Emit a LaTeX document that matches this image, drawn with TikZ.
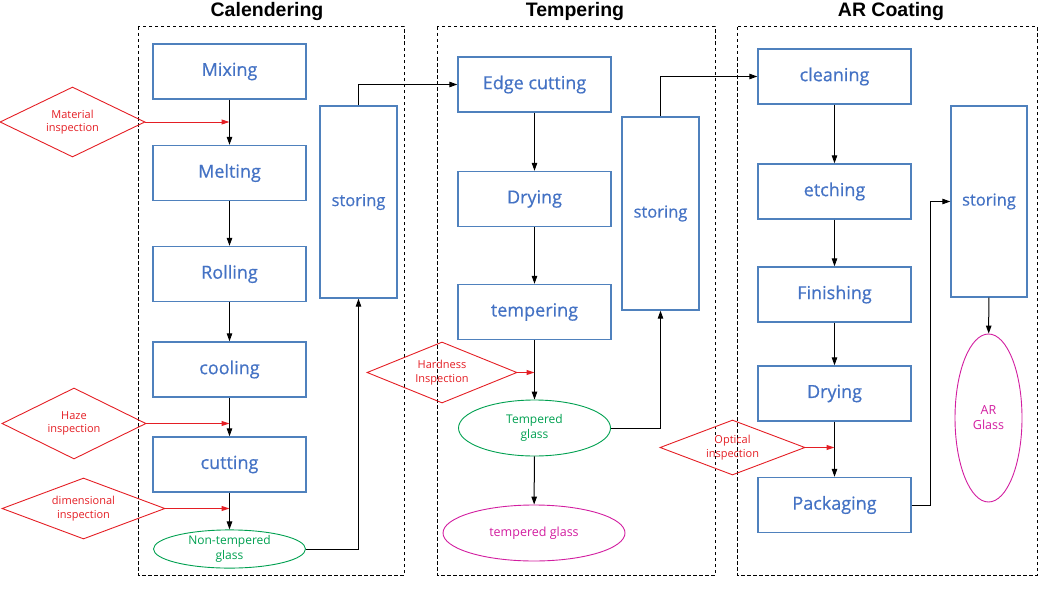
\documentclass[tikz,border=0pt]{standalone}
\usepackage{fontspec}
\setmainfont{Open Sans}
\newfontfamily\titlefont{Liberation Sans}
\newfontfamily\boxfont[FakeBold=0.6]{Open Sans}
\usetikzlibrary{shapes.geometric,arrows.meta,calc}
\definecolor{boxblue}{RGB}{79,129,189}
\definecolor{txtblue}{RGB}{68,114,196}
\definecolor{insred}{RGB}{228,30,36}
\definecolor{glgreen}{RGB}{0,160,80}
\definecolor{glpink}{RGB}{210,30,160}
\tikzset{
  procbox/.style={draw=boxblue, line width=1.4pt, minimum width=153pt, minimum height=55pt, inner sep=0pt, text=txtblue, font=\boxfont\fontsize{18}{20}\selectfont},
  storebox/.style={draw=boxblue, line width=1.4pt, minimum width=77pt, minimum height=192pt, inner sep=0pt, text=txtblue, font=\boxfont\fontsize{16.5}{18}\selectfont},
  insp/.style={draw=insred, line width=0.9pt, shape=diamond, aspect=2.3, inner sep=0pt, text=insred, align=center, font=\fontsize{11}{13.5}\selectfont},
  greenell/.style={draw=glgreen, line width=0.9pt, ellipse, inner sep=0pt, text=glgreen, align=center, font=\fontsize{12}{15}\selectfont},
  pinkell/.style={draw=glpink, line width=0.9pt, ellipse, inner sep=0pt, text=glpink, align=center, font=\fontsize{12.5}{15}\selectfont},
  flow/.style={draw=black, line width=1pt, -{Triangle[length=8pt,width=5.5pt]}},
  redflow/.style={draw=insred, line width=1pt, -{Triangle[length=8pt,width=5pt]}},
  stage/.style={draw=black, line width=1pt, dash pattern=on 3.5pt off 2.5pt},
  stagetitle/.style={font=\titlefont\bfseries\fontsize{19.5}{22}\selectfont, text=black, inner sep=0pt}
}
\begin{document}
\begin{tikzpicture}[x=1pt,y=-1pt]
\useasboundingbox (0,0) rectangle (1056,594);
% stages
\draw[stage] (138,27) rectangle (404,575);
\draw[stage] (437,27) rectangle (715,575);
\draw[stage] (737,27) rectangle (1037,575);
\node[stagetitle] (t1) at (267,12) {Calendering};
\node[stagetitle] (t2) at (575,12) {Tempering};
\node[stagetitle] (t3) at (891,12) {AR Coating};
% Calendering
\node[procbox] (mix) at (229.5,71.5) {Mixing};
\node[procbox] (melt) at (229.5,173) {Melting};
\node[procbox] (roll) at (229.5,274) {Rolling};
\node[procbox] (cool) at (229.5,369.5) {cooling};
\node[procbox] (cut) at (229.5,464.5) {cutting};
\node[greenell, minimum width=152pt, minimum height=36pt] (nt) at (229.5,549) {Non-tempered\\glass};
\node[storebox] (s1) at (358.5,202) {storing};
\node[insp, minimum width=145pt, minimum height=70pt] (mat) at (72.5,122) {Material\\inspection};
\node[insp, minimum width=144pt, minimum height=71pt] (haze) at (74,423.5) {Haze\\inspection};
\node[insp, minimum width=163pt, minimum height=61pt] (dim) at (83.5,508.5) {dimensional\\inspection};
% Tempering
\node[procbox] (edge) at (534.5,84.5) {Edge cutting};
\node[procbox] (dry1) at (534.5,199) {Drying};
\node[procbox] (temp) at (534.5,312) {tempering};
\node[greenell, minimum width=152pt, minimum height=56pt] (tg) at (534.5,428) {Tempered\\glass};
\node[pinkell, minimum width=182pt, minimum height=56pt] (tg2) at (534,533) {tempered glass};
\node[storebox, minimum height=193pt] (s2) at (660.5,213.5) {storing};
\node[insp, minimum width=150pt, minimum height=61pt] (hard) at (442,372.5) {Hardness\\Inspection};
% AR Coating
\node[procbox] (clean) at (834.5,76.5) {cleaning};
\node[procbox] (etch) at (834.5,191.5) {etching};
\node[procbox] (fin) at (834.5,294.5) {Finishing};
\node[procbox] (dry2) at (834.5,393.5) {Drying};
\node[procbox] (pack) at (834.5,505) {Packaging};
\node[storebox, minimum width=76pt, minimum height=191pt] (s3) at (989,201.5) {storing};
\node[pinkell, minimum width=67pt, minimum height=168pt] (arg) at (988.5,418) {AR\\Glass};
\node[insp, minimum width=145pt, minimum height=55pt] (opt) at (732.5,447.5) {Optical\\inspection};
% connectors calendering
\draw[flow] (mix) -- (melt);
\draw[flow] (melt) -- (roll);
\draw[flow] (roll) -- (cool);
\draw[flow] (cool) -- (cut);
\draw[flow] (cut) -- (nt);
\draw[redflow] (mat.east) -- (mat.east -| mix.south);
\draw[redflow] (haze.east) -- (haze.east -| cut.north);
\draw[redflow] (dim.east) -- (dim.east -| cut.south);
\draw[flow] (nt.east) -| (s1.south);
\draw[flow] (s1.north) |- (edge.west);
% tempering
\draw[flow] (edge) -- (dry1);
\draw[flow] (dry1) -- (temp);
\draw[flow] (temp) -- (tg);
\draw[flow] (tg) -- (tg2);
\draw[redflow] (hard.east) -- (hard.east -| temp.south);
\draw[flow] (tg.east) -| (s2.south);
\draw[flow] (s2.north) |- (clean.west);
% AR coating
\draw[flow] (clean) -- (etch);
\draw[flow] (etch) -- (fin);
\draw[flow] (fin) -- (dry2);
\draw[flow] (dry2) -- (pack);
\draw[redflow] (opt.east) -- (opt.east -| dry2.south);
\coordinate (pk) at ($(pack.east)+(19,0)$);
\draw[flow] (pack.east) -- (pk) |- (s3.west);
\draw[flow] (s3) -- (arg);
\end{tikzpicture}
\end{document}
